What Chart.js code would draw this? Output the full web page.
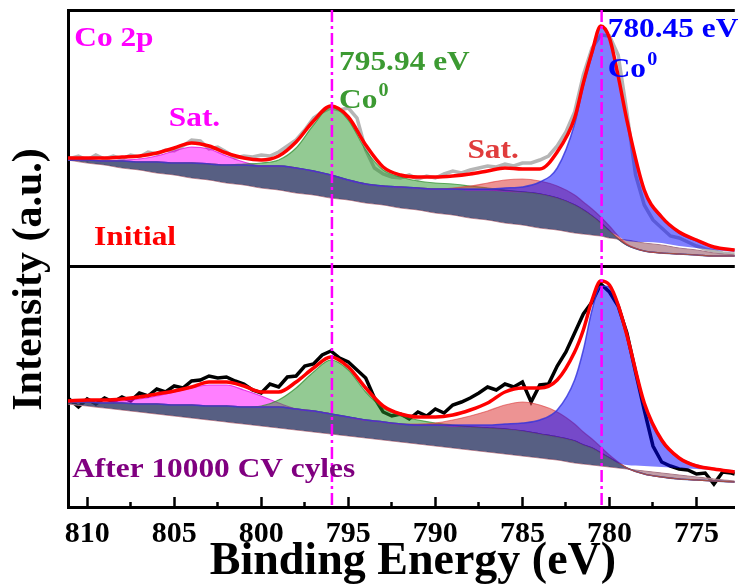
<!DOCTYPE html>
<html>
<head>
<meta charset="utf-8">
<script src="https://cdn.jsdelivr.net/npm/chart.js@4.4.1/dist/chart.umd.min.js"></script>
<style>
  html, body { margin: 0; padding: 0; background: #fff; }
  #chart { display: block; }
</style>
</head>
<body>
<canvas id="chart" width="738" height="585"></canvas>
<script>
// Binding energy grid (eV) of the fitted curves
const energy = [811.1, 810, 809, 808, 807, 806, 805, 804, 803, 802,
  801, 800, 799, 798, 797, 796, 795, 794, 793, 792,
  791, 790, 789, 788, 787, 786, 785, 784, 783, 782,
  781.5, 781, 780.5, 780, 779.5, 779, 778, 777, 776, 775,
  774, 772.8];

// Binding energy grid (eV) of the measured spectra
const rawEnergy = [811.1, 810.5, 810, 809.5, 809, 808.5, 808, 807.5, 807, 806.5,
  806, 805.5, 805, 804.5, 804, 803.5, 803, 802.5, 802, 801.5,
  801, 800.5, 800, 799.5, 799, 798.5, 798, 797.5, 797, 796.5,
  796, 795.5, 795, 794.5, 794, 793.5, 793, 792.5, 792, 791.5,
  791, 790.5, 790, 789.5, 789, 788.5, 788, 787.5, 787, 786.5,
  786, 785.5, 785, 784.5, 784, 783.5, 783, 782.5, 782, 781.5,
  781, 780.5, 780, 779.5, 779, 778.5, 778, 777.5, 777, 776.5,
  776, 775.5, 775, 774.5, 774, 773.5, 773, 772.8];

// Initial sample (upper spectrum, stacked with an offset)
const initialRaw = [348, 351, 347, 352, 348, 351, 348, 352, 350, 355,
  353, 357, 356, 361, 367, 366, 358, 360, 355, 349,
  351, 350, 352, 351, 355, 361, 367, 377, 389, 395,
  399, 397, 399, 389, 357, 339, 333, 330, 329, 332,
  328, 331, 329, 333, 336, 334, 337, 339, 341, 340,
  343, 341, 344, 344, 347, 351, 361, 375, 395, 432,
  459, 472, 471, 452, 395, 332, 302, 287, 279, 271,
  269, 265, 261, 258, 256, 254, 253, 253];
const initialFit = [349, 349, 349, 350, 351, 354, 359, 364, 361, 354,
  349, 347, 351, 365, 386, 401, 390, 362, 340, 332,
  330, 330, 331, 333, 336, 339, 338, 338, 355, 389,
  424, 455, 481, 469, 431, 387, 317, 290, 275, 267,
  260, 257];
const initialBg = [347, 347, 346, 346, 345, 345, 344, 344, 343, 342,
  342, 341, 341, 339, 336, 332, 327, 323, 321, 320,
  319, 318, 318, 317, 317, 316, 315, 313, 309, 302,
  297, 291, 284, 276, 268, 262, 256, 254, 253, 252,
  251, 251];
const initialBase = [347, 344, 342, 339, 337, 334, 332, 329, 327, 324,
  322, 319, 317, 314, 312, 309, 307, 304, 302, 299,
  297, 294, 292, 289, 287, 284, 282, 279, 277, 274,
  273, 272, 271, 269, 268, 267, 264, 262, 259, 257,
  254, 252];
const initialPeakBg = [347, 347, 346, 346, 345, 345, 344, 344, 343, 342,
  342, 341, 341, 339, 336, 332, 327, 323, 321, 320,
  319, 318, 318, 317, 317, 316, 315, 313, 309, 302,
  297, 291, 284, 276, 271, 266, 265, 264, 261, 259,
  257, 255];
const initialSat2p1 = [347, 347, 346, 347, 348, 351, 356, 360, 358, 351,
  345, 341, 341, 339, 336, 332, 327, 323, 321, 320,
  319, 318, 318, 317, 317, 316, 315, 313, 309, 302,
  297, 291, 284, 276, 268, 262, 256, 254, 253, 252,
  251, 251];
const initialCo2p1 = [347, 347, 346, 346, 345, 345, 344, 344, 343, 342,
  343, 344, 347, 359, 382, 400, 387, 357, 337, 330,
  326, 324, 323, 321, 319, 317, 315, 313, 309, 302,
  297, 291, 284, 276, 268, 262, 256, 254, 253, 252,
  251, 251];
const initialSat2p3 = [347, 347, 346, 346, 345, 345, 344, 344, 343, 342,
  342, 341, 341, 339, 336, 332, 327, 323, 321, 320,
  319, 318, 319, 321, 324, 327, 328, 326, 321, 312,
  305, 298, 290, 281, 271, 263, 256, 254, 253, 252,
  251, 251];
const initialCo2p3 = [347, 347, 346, 346, 345, 345, 344, 344, 343, 342,
  342, 341, 341, 339, 336, 332, 327, 323, 321, 320,
  319, 318, 318, 318, 318, 319, 320, 325, 339, 383,
  421, 452, 480, 468, 431, 386, 316, 289, 274, 266,
  260, 257];

// After 10000 CV cycles (lower spectrum)
const afterRaw = [109, 100, 108, 103, 109, 105, 110, 106, 114, 111,
  118, 115, 121, 119, 126, 127, 131, 129, 130, 126,
  123, 117, 114, 123, 120, 130, 131, 141, 143, 152,
  156, 149, 145, 137, 129, 109, 95, 91, 93, 88,
  95, 91, 98, 94, 102, 105, 109, 114, 120, 117,
  123, 120, 125, 105, 122, 123, 141, 155, 174, 193,
  205, 223, 215, 201, 174, 135, 97, 61, 45, 41,
  38, 37, 33, 34, 23, 35, 34, 33];
const afterFit = [106, 107, 107, 108, 110, 113, 116, 120, 125, 125,
  121, 115, 115, 125, 139, 150, 140, 119, 101, 93,
  90, 90, 92, 97, 104, 115, 119, 119, 127, 155,
  177, 207, 226, 222, 202, 172, 104, 67, 49, 41,
  38, 35];
const afterBg = [105, 105, 104, 104, 103, 103, 102, 102, 101, 101,
  100, 100, 100, 98, 96, 93, 90, 87, 85, 83,
  82, 82, 81, 80, 79, 78, 76, 73, 70, 66,
  62, 59, 54, 49, 44, 39, 33, 30, 28, 27,
  26, 25];
const afterBase = [103, 101, 99, 97, 95, 93, 91, 89, 87, 85,
  83, 81, 79, 77, 75, 73, 71, 69, 67, 65,
  63, 61, 59, 57, 55, 53, 51, 49, 47, 44,
  43, 42, 41, 40, 39, 38, 36, 34, 32, 30,
  28, 26];
const afterPeakBg = [105, 105, 104, 104, 103, 103, 102, 102, 101, 101,
  100, 100, 100, 98, 96, 93, 90, 87, 85, 83,
  82, 82, 81, 80, 79, 78, 76, 73, 70, 66,
  62, 59, 54, 49, 44, 42, 41, 40, 39, 38,
  37, 35];
const afterSat2p1 = [105, 105, 105, 106, 108, 111, 115, 119, 122, 122,
  117, 111, 104, 98, 96, 93, 90, 87, 85, 83,
  82, 82, 81, 80, 79, 78, 76, 73, 70, 66,
  62, 59, 54, 49, 44, 39, 33, 30, 28, 27,
  26, 25];
const afterCo2p1 = [105, 105, 104, 104, 103, 103, 102, 102, 101, 101,
  100, 101, 107, 119, 135, 147, 137, 115, 99, 91,
  87, 84, 82, 80, 79, 78, 76, 73, 70, 66,
  62, 59, 54, 49, 44, 39, 33, 30, 28, 27,
  26, 25];
const afterSat2p3 = [105, 105, 104, 104, 103, 103, 102, 102, 101, 101,
  100, 100, 100, 98, 96, 93, 90, 87, 85, 83,
  83, 84, 87, 91, 96, 102, 105, 102, 95, 83,
  75, 68, 60, 52, 45, 39, 33, 30, 28, 27,
  26, 25];
const afterCo2p3 = [105, 105, 104, 104, 103, 103, 102, 102, 101, 101,
  100, 100, 100, 98, 96, 93, 90, 87, 85, 83,
  82, 82, 82, 82, 82, 83, 84, 87, 97, 127,
  157, 197, 221, 220, 204, 174, 102, 65, 49, 42,
  38, 36];

const peakLines = [795.94, 780.45];
const xTicks = [810, 807.5, 805, 802.5, 800, 797.5, 795, 792.5, 790, 787.5, 785, 782.5, 780, 777.5, 775];
const xMajor = [810, 805, 800, 795, 790, 785, 780, 775];
const panelLines = [241, 497];

const FONT = '"Liberation Serif", "Times New Roman", serif';

function pts(xs, ys) {
  return xs.map((x, i) => ({ x: x, y: ys[i] }));
}

const ds = [];
function line(data, style) {
  ds.push(Object.assign({
    data: data,
    pointRadius: 0,
    borderWidth: 1,
    borderColor: 'rgba(0,0,0,0)',
    fill: false,
    cubicInterpolationMode: 'monotone',
    order: 100 - ds.length
  }, style));
  return ds.length - 1;
}

function rawLine(values, color) {
  line(pts(rawEnergy, values), {
    borderColor: color, borderWidth: 3.5, cubicInterpolationMode: 'default', tension: 0
  });
}

function fitPanel(p) {
  const base = line(pts(energy, p.base), { borderColor: '#c48a94', borderWidth: 1.2 });
  const bg = line(pts(energy, p.bg), {
    borderColor: '#3b55a5', borderWidth: 1.5,
    backgroundColor: 'rgba(45,55,100,0.8)',
    fill: { target: base, above: 'rgba(45,55,100,0.8)', below: 'rgba(175,125,138,0.75)' }
  });
  const peakBg = line(pts(energy, p.peakBg), {});
  line(pts(energy, p.sat1), {
    borderColor: 'rgba(220,0,220,0.7)', borderWidth: 1.2, backgroundColor: 'rgba(255,0,255,0.5)',
    fill: { target: bg, above: 'rgba(255,0,255,0.5)', below: 'rgba(255,0,255,0.5)' }
  });
  line(pts(energy, p.co1), {
    borderColor: 'rgba(40,140,40,0.7)', borderWidth: 1.2, backgroundColor: 'rgba(40,150,40,0.5)',
    fill: { target: bg, above: 'rgba(40,150,40,0.5)', below: 'rgba(40,150,40,0.5)' }
  });
  line(pts(energy, p.sat3), {
    borderColor: 'rgba(220,60,60,0.6)', borderWidth: 1.2, backgroundColor: 'rgba(220,40,40,0.5)',
    fill: { target: bg, above: 'rgba(220,40,40,0.5)', below: 'rgba(220,40,40,0.5)' }
  });
  line(pts(energy, p.co3), {
    borderColor: 'rgba(50,50,220,0.8)', borderWidth: 1.5, backgroundColor: 'rgba(0,0,255,0.5)',
    fill: { target: peakBg, above: 'rgba(0,0,255,0.5)', below: 'rgba(0,0,255,0.5)' }
  });
}

// measured data sits under the translucent fits
rawLine(initialRaw, '#b5b5b5');
rawLine(afterRaw, '#000000');

fitPanel({ base: initialBase, bg: initialBg, peakBg: initialPeakBg,
  sat1: initialSat2p1, co1: initialCo2p1, sat3: initialSat2p3, co3: initialCo2p3 });
fitPanel({ base: afterBase, bg: afterBg, peakBg: afterPeakBg,
  sat1: afterSat2p1, co1: afterCo2p1, sat3: afterSat2p3, co3: afterCo2p3 });

line(pts(energy, initialFit), { borderColor: '#ff0000', borderWidth: 3.5 });
line(pts(energy, afterFit), { borderColor: '#ff0000', borderWidth: 3.5 });

peakLines.forEach(e => {
  line([{ x: e, y: 497 }, { x: e, y: 0 }], {
    borderColor: '#ff00ff', borderWidth: 2.5, borderDash: [12, 4, 3, 4], tension: 0,
    cubicInterpolationMode: 'default'
  });
});

// text labels, placed in data coordinates
const notes = [
  { text: 'Co 2p', e: 810.74, v: 461, color: '#ff00ff' },
  { text: 'Sat.', e: 805.31, v: 381, color: '#ff00ff' },
  { text: 'Initial', e: 809.6, v: 262, color: '#ff0000' },
  { text: '795.94 eV', e: 795.53, v: 437, color: '#3c9a32' },
  { text: 'Co', sup: '0', e: 795.53, v: 399, color: '#3c9a32' },
  { text: 'Sat.', e: 788.16, v: 349, color: '#e03c3c' },
  { text: '780.45 eV', e: 780.1, v: 470, color: '#0000ff' },
  { text: 'Co', sup: '0', e: 780.1, v: 430, color: '#0000ff' },
  { text: 'After 10000 CV cyles', e: 810.86, v: 30, color: '#800080' }
];

const notesPlugin = {
  id: 'notes',
  afterDraw(chart) {
    const { ctx } = chart;
    const x = chart.scales.x, y = chart.scales.y;
    notes.forEach(n => {
      ctx.save();
      ctx.translate(x.getPixelForValue(n.e), y.getPixelForValue(n.v));
      ctx.scale(1.12, 1);
      ctx.textAlign = 'left';
      ctx.textBaseline = 'alphabetic';
      ctx.fillStyle = n.color;
      ctx.font = 'bold 28px ' + FONT;
      ctx.fillText(n.text, 0, 0);
      if (n.sup) {
        const w = ctx.measureText(n.text).width;
        ctx.font = 'bold 18px ' + FONT;
        ctx.fillText(n.sup, w + 1, -12);
      }
      ctx.restore();
    });
  }
};

new Chart(document.getElementById('chart'), {
  type: 'line',
  data: { datasets: ds },
  options: {
    responsive: false,
    animation: false,
    devicePixelRatio: 1,
    events: [],
    layout: { padding: { top: 10, right: 0, bottom: 0, left: 0 } },
    plugins: { legend: { display: false }, tooltip: { enabled: false } },
    scales: {
      x: {
        type: 'linear',
        reverse: true,
        min: 772.8,
        max: 811.1,
        afterBuildTicks: s => { s.ticks = xTicks.map(v => ({ value: v })); },
        afterFit: s => { s.height = 78; },
        border: { display: true, color: '#000', width: 3 },
        grid: {
          drawOnChartArea: false,
          drawTicks: true,
          tickLength: -10,
          tickWidth: 2.5,
          tickColor: '#000',
          tickBorderDash: c => (c.tick && xMajor.includes(c.tick.value)) ? [] : [7, 40]
        },
        ticks: {
          autoSkip: false,
          maxRotation: 0,
          padding: 19,
          color: '#000',
          font: { family: FONT, size: 30, weight: 'bold' },
          callback: v => xMajor.includes(v) ? String(v) : ''
        },
        title: {
          display: true,
          text: '  Binding Energy (eV)',
          color: '#000',
          font: { family: FONT, size: 46, weight: 'bold', lineHeight: 1 },
          padding: { top: 0, bottom: 0 }
        }
      },
      y: {
        type: 'linear',
        min: 0,
        max: 497,
        afterBuildTicks: s => { s.ticks = panelLines.map(v => ({ value: v })); },
        afterFit: s => { s.width = 68; },
        border: { display: true, color: '#000', width: 3 },
        grid: { color: '#000', lineWidth: 3, drawTicks: false },
        ticks: { display: false },
        title: {
          display: true,
          text: 'Intensity (a.u.)    ',
          color: '#000',
          font: { family: FONT, size: 42, weight: 'bold' },
          padding: { top: 5, bottom: 0 }
        }
      }
    }
  },
  plugins: [notesPlugin]
});
</script>
</body>
</html>
